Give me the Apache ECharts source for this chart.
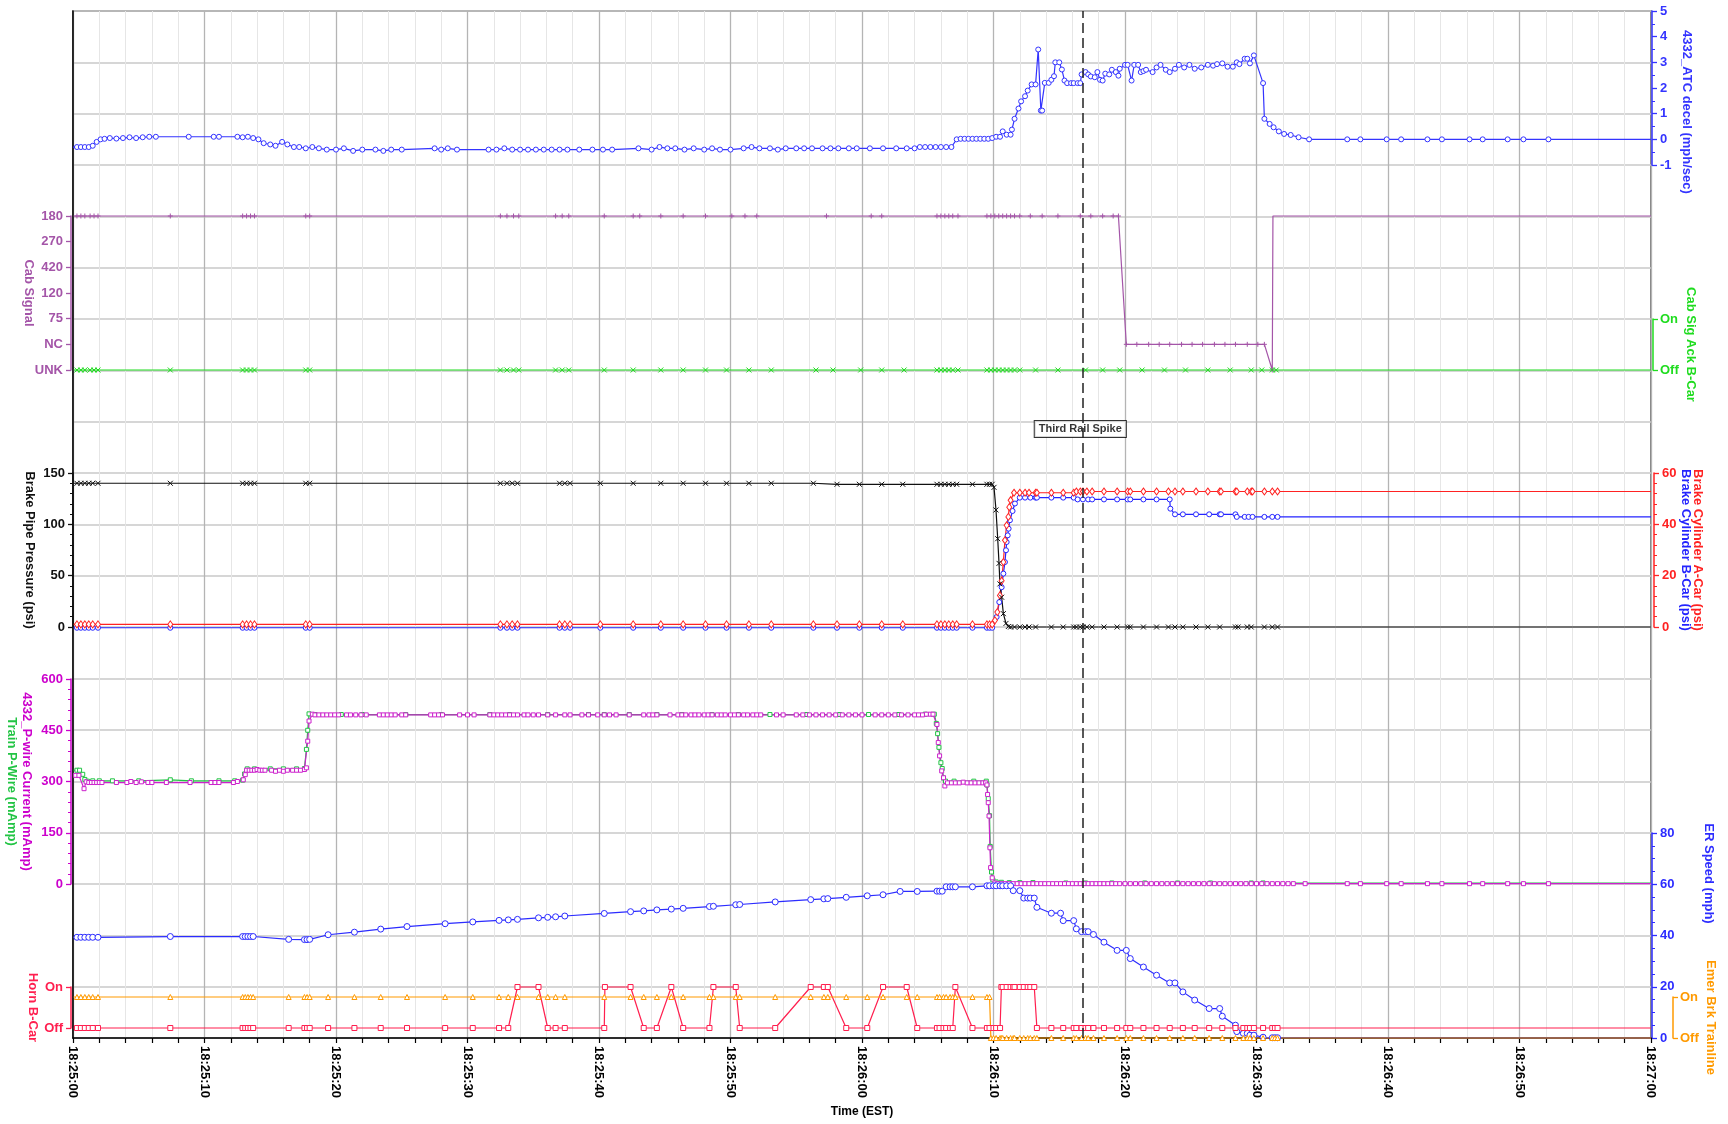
<!DOCTYPE html>
<html>
<head>
<meta charset="utf-8">
<title>Third Rail Spike</title>
<script src="https://cdn.jsdelivr.net/npm/echarts@6/dist/echarts.min.js"></script>
<style>
  html, body { margin: 0; padding: 0; background: #fff; }
  #chart { width: 1728px; height: 1124px; }
</style>
</head>
<body>
<div id="chart"></div>
<script>
// seconds after 18:25:00
const cabSignalLabels = ['UNK', 'NC', '75', '120', '420', '270', '180'];
const onOffLabels = ['Off', 'On'];
const spikeTime = 76.8;
const spikeLabel = [76.6, 11.86];

const atcDecel = [
  [0,-0.3],[0.3,-0.3],[0.6,-0.3],[0.9,-0.3],[1.2,-0.3],[1.5,-0.25],[1.8,-0.1],[2.1,0],[2.4,0.02],[2.8,0.05],
  [3.3,0.03],[3.8,0.05],[4.3,0.08],[4.8,0.05],[5.3,0.08],[5.8,0.1],[6.3,0.1],[8.8,0.1],[10.7,0.1],[11.1,0.1],
  [12.5,0.1],[12.9,0.08],[13.3,0.1],[13.7,0.05],[14.1,0],[14.5,-0.15],[15.0,-0.2],[15.4,-0.25],[15.9,-0.1],[16.3,-0.2],
  [16.8,-0.3],[17.2,-0.3],[17.7,-0.35],[18.2,-0.3],[18.7,-0.35],[19.3,-0.4],[20.0,-0.4],[20.6,-0.35],[21.3,-0.45],[22.0,-0.4],
  [23.0,-0.4],[23.6,-0.45],[24.2,-0.4],[25.0,-0.4],[27.5,-0.35],[28.0,-0.4],[28.5,-0.35],[29.2,-0.4],[31.6,-0.4],[32.2,-0.4],
  [32.8,-0.35],[33.4,-0.4],[34.0,-0.4],[34.6,-0.4],[35.2,-0.4],[35.8,-0.4],[36.4,-0.4],[37.0,-0.4],[37.6,-0.4],[38.5,-0.4],
  [39.5,-0.4],[40.3,-0.4],[41.0,-0.4],[43.0,-0.35],[44.0,-0.4],[44.6,-0.3],[45.2,-0.35],[45.8,-0.35],[46.5,-0.4],[47.2,-0.35],
  [48.0,-0.4],[48.6,-0.35],[49.2,-0.4],[50.0,-0.4],[51.0,-0.35],[51.6,-0.3],[52.2,-0.35],[53.0,-0.35],[53.6,-0.4],[54.2,-0.35],
  [55.0,-0.35],[55.6,-0.35],[56.2,-0.35],[57.0,-0.35],[57.6,-0.35],[58.2,-0.35],[59.0,-0.35],[59.6,-0.35],[60.6,-0.35],[61.6,-0.35],
  [62.6,-0.35],[63.4,-0.35],[64.0,-0.35],[64.4,-0.3],[64.8,-0.3],[65.2,-0.3],[65.6,-0.3],[66.0,-0.3],[66.4,-0.3],[66.8,-0.3],
  [67.2,0],[67.5,0.02],[67.8,0.02],[68.1,0.02],[68.4,0.02],[68.7,0.02],[69.0,0.02],[69.3,0.02],[69.6,0.02],[69.9,0.05],
  [70.2,0.1],[70.5,0.1],[70.7,0.31],[71.0,0.18],[71.3,0.18],[71.4,0.38],[71.6,0.8],[71.9,1.2],[72.1,1.48],[72.4,1.68],
  [72.6,1.9],[72.9,2.14],[73.2,2.14],[73.4,3.5],[73.6,1.12],[73.7,1.12],[73.9,2.2],[74.2,2.2],[74.4,2.32],[74.6,2.46],
  [74.7,3.0],[75.0,3.0],[75.2,2.72],[75.4,2.29],[75.6,2.19],[75.9,2.19],[76.1,2.19],[76.4,2.19],[76.6,2.19],[76.7,2.53],
  [77.0,2.62],[77.2,2.53],[77.4,2.45],[77.7,2.42],[77.9,2.62],[78.1,2.32],[78.3,2.29],[78.5,2.56],[78.8,2.53],[79.0,2.71],
  [79.3,2.62],[79.5,2.48],[79.6,2.75],[80.0,2.9],[80.2,2.9],[80.5,2.29],[80.7,2.9],[81.0,2.9],[81.2,2.62],[81.4,2.66],
  [81.6,2.71],[82.1,2.62],[82.4,2.8],[82.7,2.9],[83.1,2.71],[83.4,2.62],[83.8,2.75],[84.1,2.9],[84.5,2.8],[84.9,2.9],
  [85.3,2.75],[85.8,2.8],[86.3,2.9],[86.7,2.87],[87.0,2.93],[87.4,2.96],[87.8,2.83],[88.2,2.83],[88.5,3.0],[88.7,2.93],
  [89.1,3.14],[89.3,3.14],[89.5,2.96],[89.8,3.27],[90.5,2.19],[90.6,0.8],[91.0,0.6],[91.3,0.47],[91.7,0.31],[92.1,0.21],
  [92.6,0.17],[93.2,0.08],[94.0,0],[96.9,0],[97.9,0],[99.9,0],[101.0,0],[103.0,0],[104.1,0],[106.2,0],
  [107.2,0],[109.1,0],[110.3,0],[112.2,0],[120,0]
];

const cabSignal = [
  [0.05,6],[0.3,6],[0.6,6],[0.9,6],[1.3,6],[1.6,6],[1.9,6],[7.4,6],[12.9,6],[13.2,6],[13.5,6],[13.8,6],[17.7,6],[18.0,6],
  [32.5,6],[33.0,6],[33.5,6],[33.9,6],[36.7,6],[37.2,6],[37.7,6],[40.4,6],[42.6,6],[43.1,6],[44.7,6],[46.4,6],[48.1,6],
  [50.1,6],[51.1,6],[52.0,6],[57.3,6],[60.7,6],[61.5,6],[65.7,6],[66.0,6],[66.3,6],[66.6,6],[66.9,6],[67.3,6],[69.5,6],
  [69.8,6],[70.1,6],[70.4,6],[70.7,6],[71.0,6],[71.3,6],[71.6,6],[72.0,6],[72.8,6],[73.7,6],[74.9,6],[76.6,6],[77.4,6],
  [78.3,6],[79.1,6],[79.5,6],[80.1,1],[80.9,1],[81.8,1],[82.6,1],[83.4,1],[84.3,1],[85.1,1],[85.9,1],[86.8,1],[87.6,1],
  [88.4,1],[89.3,1],[90.1,1],[90.6,1],[91.2,0],[91.25,6],[120,6]
];

const cabSigAck = [
  [0.05,0],[0.3,0],[0.6,0],[0.9,0],[1.3,0],[1.6,0],[1.9,0],[7.4,0],[12.9,0],[13.2,0],[13.5,0],[13.8,0],[17.7,0],[18.0,0],
  [32.5,0],[33.0,0],[33.5,0],[33.9,0],[36.7,0],[37.2,0],[37.7,0],[40.4,0],[42.6,0],[44.7,0],[46.4,0],[48.1,0],[49.7,0],
  [51.4,0],[53.1,0],[56.5,0],[57.8,0],[59.9,0],[61.5,0],[63.2,0],[65.7,0],[66.0,0],[66.3,0],[66.6,0],[66.9,0],[67.3,0],
  [69.5,0],[69.8,0],[70.1,0],[70.4,0],[70.7,0],[71.0,0],[71.3,0],[71.6,0],[72.0,0],[73.2,0],[74.9,0],[77.0,0],[78.3,0],
  [79.6,0],[81.3,0],[83.0,0],[84.6,0],[86.3,0],[88.0,0],[89.6,0],[90.4,0],[91.2,0],[91.5,0],[120,0]
];

const brakePipe = [
  [0.05,140],[0.3,140],[0.6,140],[0.9,140],[1.2,140],[1.5,140],[1.9,140],[7.4,140],[12.9,140],[13.2,140],[13.5,140],
  [13.8,140],[17.7,140],[18.0,140],[32.5,140],[33.0,140],[33.4,140],[33.8,140],[37.0,140],[37.4,140],[37.8,140],[40.1,140],
  [42.6,140],[44.7,140],[46.4,140],[48.1,140],[49.7,140],[51.4,140],[53.1,140],[56.3,140],[58.1,139],[59.8,139],[61.5,139],
  [63.1,139],[65.7,139],[66.0,139],[66.3,139],[66.6,139],[66.9,139],[67.2,139],[68.4,139],[69.5,139],[69.7,139],[69.9,139],
  [70.04,136],[70.19,114],[70.32,86],[70.42,62],[70.49,42],[70.62,29],[70.75,13],[70.95,3.5],[71.13,0.5],[71.3,0],
  [71.6,0],[72.0,0],[72.4,0],[72.7,0],[73.2,0],[74.4,0],[75.3,0],[76.1,0],[76.3,0],[76.6,0],[76.8,0],[77.1,0],[77.5,0],
  [78.4,0],[79.4,0],[80.2,0],[80.4,0],[81.4,0],[82.4,0],[83.3,0],[83.8,0],[84.4,0],[85.4,0],[86.3,0],[87.2,0],[88.4,0],
  [88.6,0],[89.3,0],[89.6,0],[90.6,0],[91.2,0],[91.6,0],[120,0]
];

const brakeCylA = [
  [0.05,1],[0.3,1],[0.6,1],[0.9,1],[1.2,1],[1.5,1],[1.9,1],[7.4,1],[12.9,1],[13.2,1],[13.5,1],[13.8,1],[17.7,1],[18.0,1],
  [32.5,1],[33.0,1],[33.4,1],[33.8,1],[37.0,1],[37.4,1],[37.8,1],[40.1,1],[42.6,1],[44.7,1],[46.4,1],[48.1,1],[49.7,1],
  [51.4,1],[53.1,1],[56.3,1],[58.1,1],[59.8,1],[61.5,1],[63.1,1],[65.7,1],[66.0,1],[66.3,1],[66.6,1],[66.9,1],[67.2,1],
  [68.4,1],[69.5,1],[69.7,1],[69.9,1],[70.11,2.6],[70.29,5.8],[70.49,12.3],[70.62,18],[70.75,25.3],[70.87,33.8],[71.0,39.6],
  [71.13,42.9],[71.2,46.7],[71.3,49.4],[71.56,52.3],[72.0,52.3],[72.4,52.3],[72.7,52.3],[73.2,52.3],[73.3,52.3],[74.4,52.3],
  [75.3,52.3],[76.1,52.3],[76.3,52.8],[76.6,52.8],[76.8,52.8],[77.1,52.8],[77.5,52.8],[78.4,52.8],[79.4,52.8],[80.2,52.8],
  [80.4,52.8],[81.4,52.8],[82.4,52.8],[83.3,52.8],[83.8,52.8],[84.4,52.8],[85.4,52.8],[86.3,52.8],[87.2,52.8],[87.3,52.8],
  [88.4,52.8],[88.5,52.8],[89.3,52.8],[89.6,52.8],[89.7,52.8],[90.6,52.8],[91.2,52.8],[91.6,52.8],[120,52.8]
];

const brakeCylB = [
  [0.05,-0.3],[0.3,-0.3],[0.6,-0.3],[0.9,-0.3],[1.2,-0.3],[1.5,-0.3],[1.9,-0.3],[7.4,-0.3],[12.9,-0.3],[13.2,-0.3],
  [13.5,-0.3],[13.8,-0.3],[17.7,-0.3],[18.0,-0.3],[32.5,-0.3],[33.0,-0.3],[33.4,-0.3],[33.8,-0.3],[37.0,-0.3],[37.4,-0.3],
  [37.8,-0.3],[40.1,-0.3],[42.6,-0.3],[44.7,-0.3],[46.4,-0.3],[48.1,-0.3],[49.7,-0.3],[51.4,-0.3],[53.1,-0.3],[56.3,-0.3],
  [58.1,-0.3],[59.8,-0.3],[61.5,-0.3],[63.1,-0.3],[65.7,-0.3],[66.0,-0.3],[66.3,-0.3],[66.6,-0.3],[66.9,-0.3],[67.2,-0.3],
  [68.4,-0.3],[69.5,-0.3],[69.7,-0.3],[69.9,-0.3],[70.24,3.9],[70.44,9.7],[70.62,15.5],[70.75,20.8],[70.87,25.3],[70.95,29.9],
  [71.0,33.1],[71.08,35.7],[71.15,38.3],[71.25,41.6],[71.45,45.2],[71.63,48.1],[72.0,50.4],[72.4,50.4],[72.8,50.4],[73.2,50.4],
  [73.3,50.4],[74.4,50.4],[75.3,50.4],[76.1,50.4],[76.4,49.7],[76.8,49.7],[77.2,49.7],[77.5,49.7],[78.4,49.7],[79.4,49.7],
  [80.2,49.7],[80.4,49.7],[81.4,49.7],[82.4,49.7],[83.4,49.7],[83.45,46.1],[83.8,43.9],[84.4,43.9],[85.4,43.9],[86.4,43.9],
  [87.2,43.9],[87.3,43.9],[88.4,43.9],[88.5,42.9],[89.1,42.9],[89.4,42.9],[89.7,42.9],[90.6,42.9],[91.2,42.9],[91.6,42.9],
  [120,42.9]
];

const pwireCurrent = [
  [0.05,318],[0.2,318],[0.45,318],[0.84,279],[1.0,299],[1.2,297],[1.4,297],[1.6,297],[1.8,297],[2.0,297],[2.2,297],
  [3.3,297],[4.1,297],[4.4,300],[4.8,297],[5.2,299],[5.7,297],[6.0,297],[7.1,297],[8.9,297],[10.5,297],[10.8,297],
  [11.1,297],[12.2,297],[12.5,300],[12.95,305],[13.1,320],[13.2,333],[13.4,333],[13.6,333],[13.8,333],[14.0,335],
  [14.2,333],[14.4,333],[14.6,333],[15.1,333],[15.4,330],[15.7,333],[16.0,330],[16.3,333],[16.7,333],[17.0,333],
  [17.3,333],[17.6,335],[17.75,340],[17.85,418],[17.95,477],[18.2,497],[18.4,495],[18.7,495],[19.0,495],[19.3,495],
  [19.6,495],[19.9,495],[20.2,495],[20.8,495],[21.1,495],[21.5,495],[21.9,495],[22.3,495],[23.3,495],[23.6,495],
  [23.9,495],[24.2,495],[24.5,495],[25.0,495],[25.3,495],[27.2,495],[27.5,495],[27.8,495],[28.1,495],[29.4,495],
  [30.0,495],[30.5,495],[31.7,495],[32.0,495],[32.3,495],[32.6,495],[32.9,495],[33.2,495],[33.5,495],[33.8,495],
  [34.3,495],[34.6,495],[35.0,495],[35.4,495],[36.1,495],[36.7,495],[37.4,495],[37.8,495],[38.7,495],[39.2,495],
  [39.9,495],[40.4,495],[40.8,495],[41.3,495],[42.3,495],[43.4,495],[43.8,495],[44.1,495],[44.4,495],[45.4,495],
  [46.0,495],[46.3,495],[46.6,495],[47.0,495],[47.3,495],[47.6,495],[48.0,495],[48.3,495],[48.6,495],[49.0,495],
  [49.3,495],[49.6,495],[50.0,495],[50.3,495],[50.6,495],[51.0,495],[51.3,495],[51.7,495],[52.0,495],[52.3,495],
  [53.5,495],[54.0,495],[55.0,495],[55.5,495],[56.0,495],[56.5,495],[57.0,495],[57.5,495],[58.0,495],[58.5,495],
  [59.0,495],[59.5,495],[60.0,495],[61.0,495],[61.5,495],[62.0,495],[62.5,495],[63.0,495],[63.5,495],[64.0,495],
  [64.3,495],[64.6,495],[64.9,497],[65.2,497],[65.4,497],[65.7,467],[65.8,414],[65.9,375],[66.06,331],[66.2,311],
  [66.3,287],[66.5,296],[66.8,296],[67.1,296],[67.4,296],[67.7,298],[68.0,296],[68.3,296],[68.6,296],[68.9,296],
  [69.2,296],[69.4,296],[69.5,290],[69.55,262],[69.6,238],[69.66,199],[69.73,106],[69.78,48],[69.9,18],[70.1,3],
  [70.3,1],[70.6,1],[70.9,1],[71.2,1],[71.5,1],[71.8,1],[72.1,1],[72.4,1],[72.7,1],[73.0,1],[73.3,1],[73.6,1],
  [73.9,1],[74.2,1],[74.5,1],[74.8,1],[75.1,1],[75.4,1],[75.7,1],[76.0,1],[76.3,1],[76.6,1],[76.9,1],[77.2,1],
  [77.5,1],[77.8,1],[78.1,1],[78.4,1],[78.7,1],[79.0,1],[79.3,1],[79.6,1],[80.0,1],[80.4,1],[80.8,1],[81.2,1],
  [81.6,1],[82.0,1],[82.4,1],[82.8,1],[83.2,1],[83.6,1],[84.0,1],[84.4,1],[84.8,1],[85.2,1],[85.6,1],[86.0,1],
  [86.4,1],[86.8,1],[87.2,1],[87.6,1],[88.0,1],[88.4,1],[88.8,1],[89.2,1],[89.6,1],[90.0,1],[90.4,1],[90.8,1],
  [91.2,1],[91.6,1],[92.0,1],[92.4,1],[92.8,1],[93.7,1],[96.9,1],[97.9,1],[99.9,1],[101.0,1],[103.0,1],[104.1,1],
  [106.2,1],[107.2,1],[109.1,1],[110.3,1],[112.2,1],[120,1]
];

const trainPwire = [
  [0.05,333],[0.3,333],[0.5,333],[0.74,321],[0.9,306],[1.1,301],[1.5,302],[2.0,302],[3.0,302],[5.0,302],[7.4,305],
  [9.0,302],[11.1,302],[12.3,302],[12.9,304],[13.05,322],[13.25,337],[13.8,337],[15.0,337],[16.0,337],[17.0,337],
  [17.6,338],[17.75,394],[17.85,450],[17.95,498],[18.4,496],[20.4,496],[22.0,496],[25.3,496],[28.0,496],[31.7,496],
  [33.2,496],[36.1,496],[39.2,496],[40.4,496],[42.3,496],[44.4,496],[46.3,496],[48.6,496],[50.6,496],[53.0,496],
  [55.8,496],[58.3,496],[60.5,496],[62.8,496],[64.8,497],[65.5,497],[65.65,470],[65.75,440],[65.85,400],[66.0,355],
  [66.1,338],[66.2,310],[66.35,301],[67.0,301],[68.5,301],[69.45,301],[69.5,290],[69.6,250],[69.7,200],[69.75,110],
  [69.85,35],[69.95,12],[70.2,6],[70.6,5],[71.2,4],[72.0,4],[73.0,4],[75.5,3],[77.0,3],[79.0,3],[81.5,3],[84.0,3],
  [86.5,3],[89.6,3],[90.5,3],[120,3]
];

const erSpeed = [
  [0.05,39.3],[0.3,39.3],[0.6,39.3],[0.9,39.3],[1.2,39.3],[1.5,39.3],[1.9,39.3],[7.4,39.6],[12.9,39.6],[13.1,39.6],
  [13.3,39.6],[13.5,39.6],[13.7,39.6],[16.4,38.5],[17.6,38.4],[17.8,38.4],[18.0,38.5],[19.4,40.3],[21.4,41.3],[23.4,42.5],
  [25.4,43.5],[28.3,44.6],[30.4,45.3],[32.4,45.9],[33.1,46.1],[33.8,46.3],[35.4,46.9],[36.1,47.1],[36.7,47.3],[37.4,47.6],
  [40.4,48.6],[42.4,49.3],[43.4,49.6],[44.4,50.0],[45.5,50.3],[46.4,50.6],[48.4,51.3],[48.7,51.4],[50.4,52.0],[50.7,52.1],
  [53.4,53.1],[56.1,54.0],[57.1,54.3],[57.4,54.4],[58.8,54.9],[60.4,55.5],[61.6,55.9],[62.9,57.2],[64.2,57.2],[65.7,57.3],
  [65.9,57.3],[66.1,57.3],[66.4,59.0],[66.7,59.0],[66.9,59.0],[67.1,59.0],[68.4,59.0],[69.5,59.4],[69.7,59.4],[70.0,59.4],
  [70.2,59.4],[70.5,59.4],[70.7,59.4],[71.0,59.4],[71.3,59.4],[71.5,57.5],[72.0,57.5],[72.3,54.6],[72.6,54.6],[72.8,54.6],
  [73.1,54.6],[73.3,51.0],[74.4,48.7],[75.1,48.7],[75.3,45.8],[76.1,45.8],[76.3,42.6],[76.7,41.5],[77.0,41.5],[77.2,41.5],
  [77.6,40.4],[78.4,37.4],[79.4,34.2],[80.1,34.2],[80.4,31.0],[81.4,27.7],[82.4,24.5],[83.4,21.5],[83.8,21.5],[84.4,18.0],
  [85.3,14.8],[86.4,11.5],[87.2,11.5],[87.4,8.5],[88.4,5.0],[88.5,2.5],[89.0,1.8],[89.3,1.8],[89.5,1.1],[89.8,1.1],
  [90.5,0.3],[91.2,0.1],[91.4,0.1],[91.6,0.1],[120,0]
];

const hornBCar = [
  [0.05,0],[0.3,0],[0.6,0],[0.9,0],[1.2,0],[1.5,0],[1.9,0],[7.4,0],[12.9,0],[13.1,0],[13.3,0],[13.5,0],[13.7,0],
  [16.4,0],[17.6,0],[17.8,0],[18.0,0],[19.4,0],[21.4,0],[23.4,0],[25.4,0],[28.3,0],[30.4,0],[32.4,0],[33.1,0],
  [33.8,1],[35.4,1],[36.1,0],[36.7,0],[37.4,0],[40.4,0],[40.45,1],[42.4,1],[43.4,0],[44.4,0],[45.5,1],[46.4,0],
  [48.4,0],[48.7,1],[50.4,1],[50.7,0],[53.4,0],[56.1,1],[57.1,1],[57.4,1],[58.8,0],[60.4,0],[61.6,1],[63.4,1],
  [64.2,0],[65.7,0],[65.9,0],[66.2,0],[66.4,0],[66.7,0],[66.9,0],[67.1,1],[68.4,0],[69.5,0],[69.7,0],[70.0,0],
  [70.2,0],[70.5,0],[70.6,1],[70.7,1],[71.0,1],[71.3,1],[71.5,1],[71.6,1],[72.0,1],[72.3,1],[72.6,1],[72.8,1],
  [73.1,1],[73.3,0],[74.4,0],[75.3,0],[76.1,0],[76.3,0],[76.7,0],[77.0,0],[77.2,0],[77.6,0],[78.4,0],[79.4,0],
  [80.1,0],[80.4,0],[81.4,0],[82.4,0],[83.4,0],[84.4,0],[85.3,0],[86.4,0],[87.4,0],[88.4,0],[89.0,0],[89.3,0],
  [89.5,0],[89.8,0],[90.5,0],[91.2,0],[91.4,0],[91.6,0],[120,0]
];

const emerBrk = [
  [0.05,1],[0.3,1],[0.6,1],[0.9,1],[1.2,1],[1.5,1],[1.9,1],[7.4,1],[12.9,1],[13.1,1],[13.3,1],[13.5,1],[13.7,1],
  [16.4,1],[17.6,1],[17.8,1],[18.0,1],[19.4,1],[21.4,1],[23.4,1],[25.4,1],[28.3,1],[30.4,1],[32.4,1],[33.1,1],
  [33.8,1],[35.4,1],[36.1,1],[36.7,1],[37.4,1],[40.4,1],[42.4,1],[43.4,1],[44.4,1],[45.5,1],[46.4,1],[48.4,1],
  [48.7,1],[50.4,1],[50.7,1],[53.4,1],[56.1,1],[57.1,1],[57.4,1],[58.8,1],[60.4,1],[61.6,1],[63.4,1],[64.2,1],
  [65.7,1],[65.9,1],[66.2,1],[66.4,1],[66.7,1],[66.9,1],[67.1,1],[68.4,1],[69.5,1],[69.7,1],[69.8,0],[70.0,0],
  [70.2,0],[70.5,0],[70.6,0],[70.7,0],[71.0,0],[71.3,0],[71.5,0],[71.6,0],[72.0,0],[72.3,0],[72.6,0],[72.8,0],
  [73.1,0],[73.3,0],[74.4,0],[75.3,0],[76.1,0],[76.3,0],[76.7,0],[77.0,0],[77.2,0],[77.6,0],[78.4,0],[79.4,0],
  [80.1,0],[80.4,0],[81.4,0],[82.4,0],[83.4,0],[84.4,0],[85.3,0],[86.4,0],[87.4,0],[88.4,0],[89.0,0],[89.3,0],
  [89.5,0],[89.8,0],[90.5,0],[91.2,0],[91.4,0],[91.6,0],[120,0]
];

const FONT = '"Liberation Sans", Arial, sans-serif';
const C = {
  atc: '#3434ff', cab: '#a455a8', ack: '#1fdc1f', pipe: '#111111', cylA: '#ff2222', cylB: '#2424ff',
  pwire: '#cc22cc', train: '#22c444', speed: '#2c2cff', horn: '#ff1f4f', emer: '#ff9a00'
};

function timeLabel(v) {
  const s = 25 * 60 + v;
  const m = Math.floor(s / 60), sec = s % 60;
  return '18:' + String(m).padStart(2, '0') + ':' + String(sec).padStart(2, '0');
}

const L = 73, W = 1578;
const panels = [
  { top: 11, height: 1027 },  // 0 background
  { top: 11, height: 154 },   // 1 atc decel
  { top: 216, height: 154 },  // 2 cab signal
  { top: 319, height: 51 },   // 3 cab sig ack
  { top: 473, height: 154 },  // 4 brake pipe / cylinders
  { top: 679, height: 205 },  // 5 p-wire
  { top: 833, height: 205 },  // 6 er speed
  { top: 987, height: 41 },   // 7 horn
  { top: 997, height: 41 }    // 8 emer brk
];

const grids = panels.map((p, i) => ({
  left: L, width: W, top: p.top, height: p.height, outerBoundsMode: 'none',
  show: i === 0, backgroundColor: '#fff', borderColor: '#5a5a5a', borderWidth: 1.5
}));

const xAxes = panels.map((p, i) => i === 0 ? {
  type: 'value', gridIndex: 0, min: 0, max: 120, interval: 10,
  name: 'Time (EST)', nameLocation: 'middle', nameGap: 68,
  nameTextStyle: { color: '#000', fontFamily: FONT, fontWeight: 'bold', fontSize: 12 },
  axisLine: { show: true, onZero: false, lineStyle: { color: '#000', width: 1.5 } },
  axisTick: { show: true, length: 5, lineStyle: { color: '#000', width: 1.2 } },
  minorTick: { show: true, splitNumber: 5, length: 5, lineStyle: { color: '#000', width: 1.2 } },
  axisLabel: { rotate: -90, formatter: timeLabel, color: '#000', fontFamily: FONT, fontWeight: 'bold',
    fontSize: 13, margin: 8, showMinLabel: true, showMaxLabel: true },
  splitLine: { show: true, lineStyle: { color: '#b4b4b4', width: 1.3 } },
  minorSplitLine: { show: true, lineStyle: { color: '#e6e6e6', width: 1 } }
} : { type: 'value', gridIndex: i, min: 0, max: 120, show: false });

function yAx(grid, pos, min, max, interval, color, name, o) {
  return Object.assign({
    type: 'value', gridIndex: grid, position: pos, min, max, interval,
    name, nameLocation: 'middle', nameRotate: -90, nameGap: 30, nameMoveOverlap: false,
    nameTextStyle: { color, fontFamily: FONT, fontWeight: 'bold', fontSize: 13 },
    axisLine: { show: true, onZero: false, lineStyle: { color, width: 1.5 } },
    axisTick: { show: true, length: 5, lineStyle: { color, width: 1.3 } },
    axisLabel: { color, fontFamily: FONT, fontWeight: 'bold', fontSize: 13, margin: 8,
      showMinLabel: true, showMaxLabel: true },
    splitLine: { show: false }
  }, o);
}
const minor = (n, color) => ({ show: true, splitNumber: n, length: 3, lineStyle: { color, width: 1 } });

const yAxes = [
  { type: 'value', gridIndex: 0, min: 0, max: 20, interval: 1,
    axisLine: { show: true, lineStyle: { color: '#000', width: 1.5 } },
    axisTick: { show: false }, axisLabel: { show: false },
    splitLine: { show: true, lineStyle: { color: '#c8c8c8', width: 1.5 } } },
  yAx(1, 'right', -1, 5, 1, C.atc, '4332_ATC decel (mph/sec)', { offset: 1, nameGap: 28,
    minorTick: minor(2, C.atc), nameTextStyle: { color: C.atc, fontFamily: FONT, fontWeight: 'bold', fontSize: 13, padding: [0, 0, 0, 48] } }),
  yAx(2, 'left', 0, 6, 1, C.cab, 'Cab Signal', { offset: 2, nameGap: 36,
    axisLabel: { color: C.cab, fontFamily: FONT, fontWeight: 'bold', fontSize: 13, margin: 8, formatter: v => cabSignalLabels[v] } }),
  yAx(3, 'right', 0, 1, 1, C.ack, 'Cab Sig Ack B-Car', { offset: 2, nameGap: 31,
    axisLabel: { color: C.ack, fontFamily: FONT, fontWeight: 'bold', fontSize: 13, margin: 7, formatter: v => onOffLabels[v] } }),
  yAx(4, 'left', 0, 150, 50, C.pipe, 'Brake Pipe Pressure (psi)', { offset: 0, nameGap: 37, minorTick: minor(5, C.pipe) }),
  yAx(4, 'right', 0, 60, 20, C.cylA, '{a|Brake Cylinder A-Car (psi)}\n{b|Brake Cylinder B-Car (psi)}', { offset: 3, nameGap: 26,
    minorTick: minor(5, C.cylA),
    nameTextStyle: { rich: {
      a: { color: C.cylA, fontFamily: FONT, fontWeight: 'bold', fontSize: 13, lineHeight: 12 },
      b: { color: C.cylB, fontFamily: FONT, fontWeight: 'bold', fontSize: 13, lineHeight: 12 } } } }),
  yAx(5, 'left', 0, 600, 150, '#cc00cc', '{a|4332_P-wire Current (mAmp)}\n{b|Train P-Wire (mAmp)}', { offset: 2, nameGap: 37,
    minorTick: minor(5, '#cc00cc'),
    nameTextStyle: { rich: {
      a: { color: '#cc00cc', fontFamily: FONT, fontWeight: 'bold', fontSize: 13, lineHeight: 15 },
      b: { color: C.train, fontFamily: FONT, fontWeight: 'bold', fontSize: 13, lineHeight: 15 } } } }),
  yAx(6, 'right', 0, 80, 20, C.speed, 'ER Speed (mph)', { offset: 1, nameGap: 50,
    minorTick: minor(4, C.speed),
    nameTextStyle: { color: C.speed, fontFamily: FONT, fontWeight: 'bold', fontSize: 13, padding: [0, 124, 0, 0] } }),
  yAx(7, 'left', 0, 1, 1, C.horn, 'Horn B-Car', { offset: 2, nameGap: 32,
    axisLabel: { color: C.horn, fontFamily: FONT, fontWeight: 'bold', fontSize: 13, margin: 8, formatter: v => onOffLabels[v] } }),
  yAx(8, 'right', 0, 1, 1, C.emer, 'Emer Brk Trainline', { offset: 22, nameGap: 31,
    axisLabel: { color: C.emer, fontFamily: FONT, fontWeight: 'bold', fontSize: 13, margin: 7, formatter: v => onOffLabels[v] } })
];

const SYM_X = 'path://M0,0L10,10M10,0L0,10';
const SYM_PLUS = 'path://M5,0L5,10M0,5L10,5';

function pts(data, markUntil) {
  const until = markUntil === undefined ? 119 : markUntil;
  return data.map(p => (p[0] < 0.1 || p[0] > until) ? { value: p, symbol: 'none' } : p);
}

function line(name, data, xi, yi, color, symbol, size, hollow, markUntil) {
  return {
    name, type: 'line', xAxisIndex: xi, yAxisIndex: yi, data: pts(data, markUntil),
    symbol, symbolSize: size, showAllSymbol: true, clip: false,
    lineStyle: { color, width: 1.2 },
    itemStyle: { color: hollow ? '#fff' : color, borderColor: color, borderWidth: 1 },
    emphasis: { disabled: true }, silent: true
  };
}

const series = [
  {
    type: 'scatter', xAxisIndex: 0, yAxisIndex: 0, data: [spikeLabel], symbolSize: 1, silent: true,
    itemStyle: { color: 'rgba(0,0,0,0)' },
    label: { show: true, position: 'inside', formatter: 'Third Rail Spike', color: '#000',
      fontFamily: FONT, fontWeight: 'bold', fontSize: 11, backgroundColor: '#fff',
      borderColor: '#000', borderWidth: 1, padding: [3, 4, 2, 4] },
    markLine: { silent: true, symbol: ['none', 'none'], label: { show: false },
      lineStyle: { color: '#222', type: [10, 5], width: 1.5 }, data: [{ xAxis: spikeTime }] }
  },
  line('4332_ATC decel', atcDecel, 1, 1, C.atc, 'circle', 5, true),
  line('Cab Signal', cabSignal, 2, 2, C.cab, SYM_PLUS, 5, false, 91.2),
  line('Cab Sig Ack B-Car', cabSigAck, 3, 3, C.ack, SYM_X, 5, false),
  line('Brake Cylinder B-Car', brakeCylB, 4, 5, C.cylB, 'circle', 5, true),
  line('Brake Cylinder A-Car', brakeCylA, 4, 5, C.cylA, 'diamond', [5, 7], true),
  line('Brake Pipe Pressure', brakePipe, 4, 4, C.pipe, SYM_X, 5, false),
  line('Train P-Wire', trainPwire, 5, 6, C.train, 'rect', 4, true),
  line('4332_P-wire Current', pwireCurrent, 5, 6, C.pwire, 'rect', 4, true),
  line('ER Speed', erSpeed, 6, 7, C.speed, 'circle', 6, true),
  line('Horn B-Car', hornBCar, 7, 8, C.horn, 'rect', 5, true),
  line('Emer Brk Trainline', emerBrk, 8, 9, C.emer, 'triangle', 5, true)
];

const chart = echarts.init(document.getElementById('chart'));
chart.setOption({
  animation: false,
  backgroundColor: '#fff',
  grid: grids,
  xAxis: xAxes,
  yAxis: yAxes,
  series
});
</script>
</body>
</html>
